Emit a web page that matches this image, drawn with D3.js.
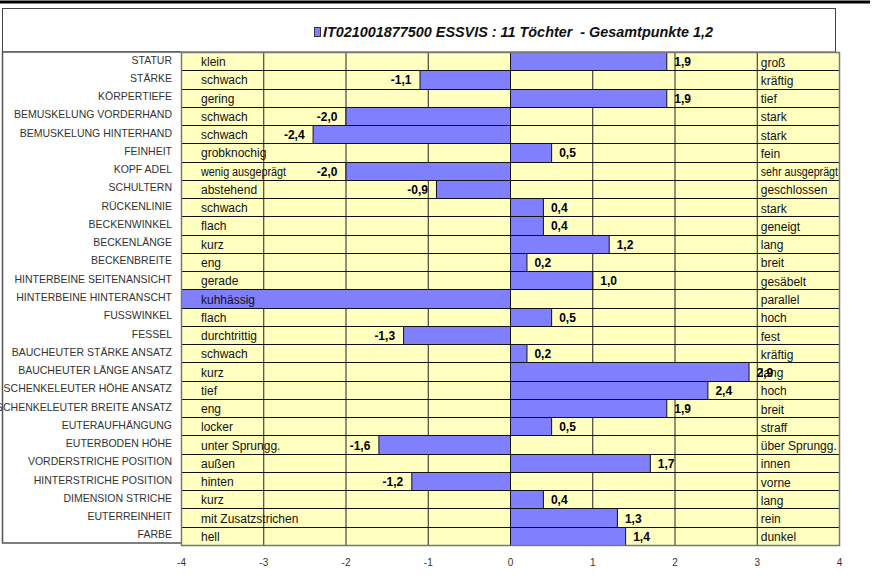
<!DOCTYPE html>
<html>
<head>
<meta charset="utf-8">
<script src="https://cdn.jsdelivr.net/npm/d3@7"></script>
<style>
  body { margin: 0; background: #fff; }
  svg { display: block; font-family: Arial, "Liberation Sans", sans-serif; }
</style>
</head>
<body>
<svg width="872" height="578"></svg>
<script>
const traits = [
  "STATUR", "STÄRKE", "KÖRPERTIEFE", "BEMUSKELUNG VORDERHAND", "BEMUSKELUNG HINTERHAND",
  "FEINHEIT", "KOPF ADEL", "SCHULTERN", "RÜCKENLINIE", "BECKENWINKEL", "BECKENLÄNGE",
  "BECKENBREITE", "HINTERBEINE SEITENANSICHT", "HINTERBEINE HINTERANSCHT", "FUSSWINKEL",
  "FESSEL", "BAUCHEUTER STÄRKE ANSATZ", "BAUCHEUTER LÄNGE ANSATZ", "SCHENKELEUTER HÖHE ANSATZ",
  "SCHENKELEUTER BREITE ANSATZ", "EUTERAUFHÄNGUNG", "EUTERBODEN HÖHE", "VORDERSTRICHE POSITION",
  "HINTERSTRICHE POSITION", "DIMENSION STRICHE", "EUTERREINHEIT", "FARBE"
];
const lowLabels = [
  "klein", "schwach", "gering", "schwach", "schwach", "grobknochig", "wenig ausgeprägt",
  "abstehend", "schwach", "flach", "kurz", "eng", "gerade", "kuhhässig", "flach",
  "durchtrittig", "schwach", "kurz", "tief", "eng", "locker", "unter Sprungg.", "außen",
  "hinten", "kurz", "mit Zusatzstrichen", "hell"
];
const highLabels = [
  "groß", "kräftig", "tief", "stark", "stark", "fein", "sehr ausgeprägt", "geschlossen",
  "stark", "geneigt", "lang", "breit", "gesäbelt", "parallel", "hoch", "fest", "kräftig",
  "lang", "hoch", "breit", "straff", "über Sprungg.", "innen", "vorne", "lang", "rein", "dunkel"
];
const values = [
  1.9, -1.1, 1.9, -2.0, -2.4, 0.5, -2.0, -0.9, 0.4, 0.4, 1.2, 0.2, 1.0, -4.5, 0.5,
  -1.3, 0.2, 2.9, 2.4, 1.9, 0.5, -1.6, 1.7, -1.2, 0.4, 1.3, 1.4
];
const ticks = [-4, -3, -2, -1, 0, 1, 2, 3, 4];
const title = "IT021001877500 ESSVIS : 11 Töchter  - Gesamtpunkte 1,2";

const rows = traits.map((t, i) => ({ trait: t, low: lowLabels[i], high: highLabels[i], value: values[i] }));

const svg = d3.select("svg");
const plot = { left: 181, right: 839, top: 52, bottom: 545 };

const x = d3.scaleLinear().domain([-4, 4]).range([plot.left, plot.right]).clamp(true);
const y = d3.scaleBand().domain(traits).range([plot.top, plot.bottom]).padding(0);
const fmt = (v) => d3.format(".1f")(v).replace(".", ",").replace("−", "-");

// top rule
svg.append("line")
  .attr("x1", 0).attr("x2", 870).attr("y1", 2).attr("y2", 2)
  .attr("stroke", "#000").attr("stroke-width", 3);

// title box
svg.append("rect")
  .attr("x", 2.5).attr("y", 8.5).attr("width", 833).attr("height", plot.top - 8.5)
  .attr("fill", "#fff").attr("stroke", "#444").attr("stroke-width", 1);

// left label box
svg.append("path")
  .attr("d", `M${plot.left},${plot.top}H2.5V543H${plot.left}`)
  .attr("fill", "#fff").attr("stroke", "#555").attr("stroke-width", 1.5);

// plot background
svg.append("rect")
  .attr("x", plot.left).attr("y", plot.top)
  .attr("width", plot.right - plot.left).attr("height", plot.bottom - plot.top)
  .attr("fill", "#FFFFC0");

// vertical grid
svg.append("g")
  .selectAll("line")
  .data(ticks.slice(1, -1))
  .join("line")
  .attr("x1", (d) => x(d) + 0.5).attr("x2", (d) => x(d) + 0.5)
  .attr("y1", plot.top).attr("y2", plot.bottom)
  .attr("stroke", (d) => (d === 0 ? "#000" : "#222"))
  .attr("stroke-width", 1);

// row lines
svg.append("g")
  .selectAll("line")
  .data(traits.slice(1))
  .join("line")
  .attr("x1", plot.left).attr("x2", plot.right)
  .attr("y1", (d) => Math.round(y(d)) + 0.5).attr("y2", (d) => Math.round(y(d)) + 0.5)
  .attr("stroke", "#111").attr("stroke-width", 1);

// bars
svg.append("g")
  .selectAll("rect")
  .data(rows)
  .join("rect")
  .attr("x", (d) => Math.min(x(0), x(d.value)) + 0.5)
  .attr("y", (d) => Math.round(y(d.trait)) + 0.5)
  .attr("width", (d) => Math.abs(x(d.value) - x(0)))
  .attr("height", (d) => Math.round(y(d.trait) + y.bandwidth()) - Math.round(y(d.trait)))
  .attr("fill", "#8080FF")
  .attr("stroke", "#111")
  .attr("stroke-width", 1);

// plot border
svg.append("rect")
  .attr("x", plot.left + 0.5).attr("y", plot.top + 0.5)
  .attr("width", plot.right - plot.left).attr("height", plot.bottom - plot.top)
  .attr("fill", "none").attr("stroke", "#777").attr("stroke-width", 1.5);

// low / high anchor labels
const anchors = svg.append("g").style("font-size", "12px").attr("fill", "#111");
anchors.selectAll("text.low")
  .data(rows)
  .join("text")
  .attr("class", "low")
  .attr("x", plot.left + 20)
  .attr("y", (d) => y(d.trait) + y.bandwidth() / 2 + 5)
  .text((d) => d.low)
  .each(function (d) {
    // squeeze long labels like the reference does
    if (d.low === "wenig ausgeprägt") {
      d3.select(this).attr("textLength", 85).attr("lengthAdjust", "spacingAndGlyphs");
    }
  });
anchors.selectAll("text.high")
  .data(rows)
  .join("text")
  .attr("class", "high")
  .attr("x", x(3) + 4)
  .attr("y", (d) => y(d.trait) + y.bandwidth() / 2 + 5.5)
  .text((d) => d.high)
  .each(function () {
    const w = this.getComputedTextLength();
    const room = plot.right - (x(3) + 4) - 1;
    if (w > room) d3.select(this).attr("textLength", room).attr("lengthAdjust", "spacingAndGlyphs");
  });

// value labels
svg.append("g")
  .style("font-size", "12px")
  .style("font-weight", "bold")
  .attr("fill", "#000")
  .selectAll("text")
  .data(rows.filter((d) => Math.abs(d.value) < 4))
  .join("text")
  .attr("x", (d) => (d.value >= 0 ? x(d.value) + 8 : x(d.value) - 8))
  .attr("y", (d) => y(d.trait) + y.bandwidth() / 2 + 5)
  .attr("text-anchor", (d) => (d.value >= 0 ? "start" : "end"))
  .text((d) => fmt(d.value));

// trait names
svg.append("g")
  .style("font-size", "10.5px")
  .attr("fill", "#333")
  .selectAll("text")
  .data(rows)
  .join("text")
  .attr("x", 172)
  .attr("y", (d) => y(d.trait) + y.bandwidth() / 2 + 2.5)
  .attr("text-anchor", "end")
  .text((d) => d.trait);

// x axis
svg.append("g")
  .attr("transform", `translate(0,${plot.bottom})`)
  .call(d3.axisBottom(x).tickValues(ticks).tickSize(0).tickFormat((d) => String(d)))
  .call((g) => g.select(".domain").remove())
  .call((g) => g.selectAll("text")
    .attr("dy", 0).attr("y", 21)
    .style("font-size", "10px")
    .style("font-family", "Arial, 'Liberation Sans', sans-serif")
    .attr("fill", "#333"));

// title with legend swatch
const t = svg.append("g");
t.append("rect")
  .attr("x", 314.5).attr("y", 27.5).attr("width", 6).attr("height", 9)
  .attr("fill", "#8080FF").attr("stroke", "#333").attr("stroke-width", 1);
t.append("text")
  .attr("x", 323).attr("y", 37)
  .style("font-size", "14.4px").style("font-weight", "bold").style("font-style", "italic")
  .attr("fill", "#111")
  .attr("xml:space", "preserve")
  .text(title);
</script>
</body>
</html>
